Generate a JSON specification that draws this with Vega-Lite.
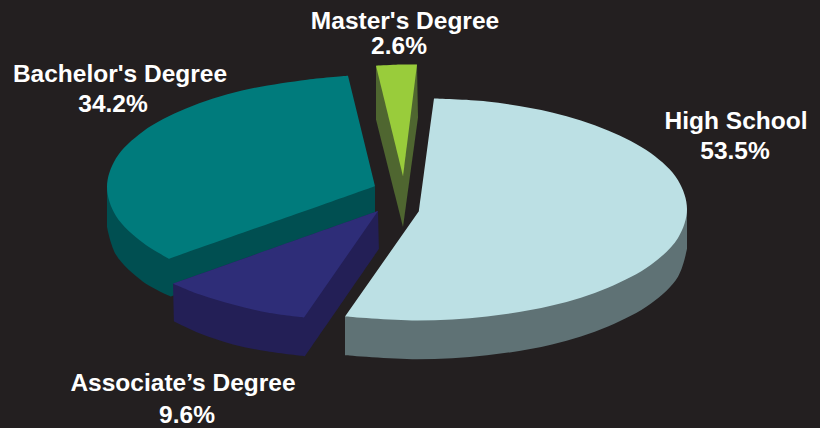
{
"$schema":"https://vega.github.io/schema/vega-lite/v6.json",
"width":820,"height":428,"padding":0,
"autosize":{"type":"fit","contains":"padding"},
"background":"#231f20",
"config":{"view":{"stroke":null}},
"datasets":{
"outlines":[
{"part":"Bachelor side","pt":1,"x":375,"y":187},{"part":"Bachelor side","pt":2,"x":375,"y":187},{"part":"Bachelor side","pt":3,"x":375,"y":216},{"part":"Bachelor side","pt":4,"x":375,"y":216},{"part":"Bachelor side","pt":5,"x":171,"y":298},{"part":"Bachelor side","pt":6,"x":171,"y":298},{"part":"Bachelor side","pt":7,"x":143,"y":283},{"part":"Bachelor side","pt":8,"x":116,"y":256},{"part":"Bachelor side","pt":9,"x":107,"y":228},{"part":"Bachelor side","pt":10,"x":107,"y":228},{"part":"Bachelor side","pt":11,"x":107,"y":188},{"part":"Bachelor side","pt":12,"x":107,"y":188},
{"part":"Bachelor top","pt":1,"x":348,"y":76},{"part":"Bachelor top","pt":2,"x":348,"y":76},{"part":"Bachelor top","pt":3,"x":307,"y":80},{"part":"Bachelor top","pt":4,"x":242,"y":91},{"part":"Bachelor top","pt":5,"x":186,"y":109},{"part":"Bachelor top","pt":6,"x":143,"y":132},{"part":"Bachelor top","pt":7,"x":116,"y":159},{"part":"Bachelor top","pt":8,"x":107,"y":188},{"part":"Bachelor top","pt":9,"x":116,"y":217},{"part":"Bachelor top","pt":10,"x":143,"y":244},{"part":"Bachelor top","pt":11,"x":169,"y":260},{"part":"Bachelor top","pt":12,"x":169,"y":260},{"part":"Bachelor top","pt":13,"x":375,"y":187},{"part":"Bachelor top","pt":14,"x":375,"y":187},
{"part":"Associate side","pt":1,"x":173,"y":285},{"part":"Associate side","pt":2,"x":173,"y":285},{"part":"Associate side","pt":3,"x":174,"y":323},{"part":"Associate side","pt":4,"x":174,"y":323},{"part":"Associate side","pt":5,"x":200,"y":335},{"part":"Associate side","pt":6,"x":233,"y":346},{"part":"Associate side","pt":7,"x":267,"y":353},{"part":"Associate side","pt":8,"x":305,"y":358},{"part":"Associate side","pt":9,"x":305,"y":358},{"part":"Associate side","pt":10,"x":379,"y":250},{"part":"Associate side","pt":11,"x":379,"y":250},{"part":"Associate side","pt":12,"x":378,"y":212},{"part":"Associate side","pt":13,"x":378,"y":212},
{"part":"Associate top","pt":1,"x":378,"y":212},{"part":"Associate top","pt":2,"x":378,"y":212},{"part":"Associate top","pt":3,"x":173,"y":285},{"part":"Associate top","pt":4,"x":173,"y":285},{"part":"Associate top","pt":5,"x":200,"y":296},{"part":"Associate top","pt":6,"x":233,"y":306},{"part":"Associate top","pt":7,"x":267,"y":314},{"part":"Associate top","pt":8,"x":304,"y":319},{"part":"Associate top","pt":9,"x":304,"y":319},
{"part":"Master side","pt":1,"x":376,"y":66},{"part":"Master side","pt":2,"x":376,"y":66},{"part":"Master side","pt":3,"x":376,"y":120},{"part":"Master side","pt":4,"x":376,"y":120},{"part":"Master side","pt":5,"x":403,"y":228},{"part":"Master side","pt":6,"x":403,"y":228},{"part":"Master side","pt":7,"x":418,"y":118},{"part":"Master side","pt":8,"x":418,"y":118},{"part":"Master side","pt":9,"x":417,"y":65},{"part":"Master side","pt":10,"x":417,"y":65},
{"part":"Master top","pt":1,"x":376,"y":66},{"part":"Master top","pt":2,"x":376,"y":66},{"part":"Master top","pt":3,"x":396,"y":65},{"part":"Master top","pt":4,"x":417,"y":65},{"part":"Master top","pt":5,"x":417,"y":65},{"part":"Master top","pt":6,"x":403,"y":177},{"part":"Master top","pt":7,"x":403,"y":177},
{"part":"High School side","pt":1,"x":687,"y":210},{"part":"High School side","pt":2,"x":687,"y":210},{"part":"High School side","pt":3,"x":687,"y":250},{"part":"High School side","pt":4,"x":687,"y":250},{"part":"High School side","pt":5,"x":678,"y":278},{"part":"High School side","pt":6,"x":651,"y":305},{"part":"High School side","pt":7,"x":608,"y":328},{"part":"High School side","pt":8,"x":552,"y":346},{"part":"High School side","pt":9,"x":487,"y":357},{"part":"High School side","pt":10,"x":417,"y":361},{"part":"High School side","pt":11,"x":345,"y":357},{"part":"High School side","pt":12,"x":345,"y":357},{"part":"High School side","pt":13,"x":345,"y":318},{"part":"High School side","pt":14,"x":345,"y":318},
{"part":"High School top","pt":1,"x":419,"y":212},{"part":"High School top","pt":2,"x":419,"y":212},{"part":"High School top","pt":3,"x":434,"y":99},{"part":"High School top","pt":4,"x":434,"y":99},{"part":"High School top","pt":5,"x":487,"y":102},{"part":"High School top","pt":6,"x":552,"y":113},{"part":"High School top","pt":7,"x":608,"y":131},{"part":"High School top","pt":8,"x":651,"y":154},{"part":"High School top","pt":9,"x":678,"y":181},{"part":"High School top","pt":10,"x":687,"y":210},{"part":"High School top","pt":11,"x":678,"y":239},{"part":"High School top","pt":12,"x":651,"y":266},{"part":"High School top","pt":13,"x":608,"y":289},{"part":"High School top","pt":14,"x":552,"y":307},{"part":"High School top","pt":15,"x":487,"y":318},{"part":"High School top","pt":16,"x":417,"y":322},{"part":"High School top","pt":17,"x":345,"y":318},{"part":"High School top","pt":18,"x":345,"y":318}
],
"labels":[
{"text":"High School","x":736,"y":130},{"text":"53.5%","x":735,"y":160},
{"text":"Bachelor's Degree","x":120,"y":82},{"text":"34.2%","x":113,"y":113},
{"text":"Associate’s Degree","x":183,"y":393},{"text":"9.6%","x":187,"y":425},
{"text":"Master's Degree","x":405,"y":29},{"text":"2.6%","x":399,"y":54}
]},
"layer":[
{"data":{"name":"outlines"},
"mark":{"type":"line","interpolate":"catmull-rom","strokeWidth":0,"filled":true},
"encoding":{
"x":{"field":"x","type":"quantitative","scale":{"domain":[0,820]},"axis":null},
"y":{"field":"y","type":"quantitative","scale":{"domain":[428,0]},"axis":null},
"order":{"field":"pt"},
"fill":{"field":"part","type":"nominal","legend":null,"scale":{
"domain":["Bachelor side","Bachelor top","Associate side","Associate top","Master side","Master top","High School side","High School top"],
"range":["#004f51","#007b7c","#231f56","#2e2d78","#4f6630","#99cc3b","#5f7275","#bce0e4"]}}}},
{"data":{"name":"labels"},
"mark":{"type":"text","font":"Liberation Sans","fontWeight":"bold","fontSize":24.5,"color":"#ffffff","align":"center","baseline":"alphabetic"},
"encoding":{
"x":{"field":"x","type":"quantitative","scale":{"domain":[0,820]},"axis":null},
"y":{"field":"y","type":"quantitative","scale":{"domain":[428,0]},"axis":null},
"text":{"field":"text"}}}
]}
